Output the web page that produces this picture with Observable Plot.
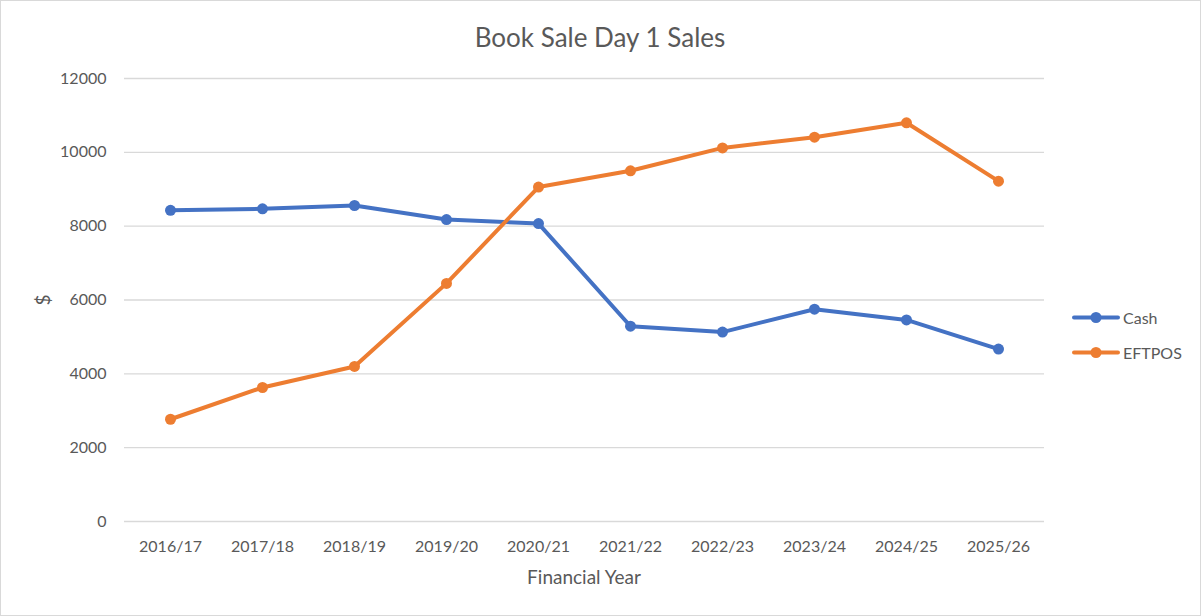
<!DOCTYPE html>
<html>
<head>
<meta charset="utf-8">
<script src="https://cdn.jsdelivr.net/npm/d3@7"></script>
<script src="https://cdn.jsdelivr.net/npm/@observablehq/plot@0.6"></script>
<style>
  html, body { margin: 0; padding: 0; background: #fff; }
  #wrap { position: relative; width: 1201px; height: 616px; overflow: hidden; font-family: Lato, "Open Sans", sans-serif; color: #595959; }
  #border { position: absolute; left: 0; top: 0; width: 1199px; height: 614px; border: 1px solid #d9d9d9; pointer-events: none; }
  #chart { position: absolute; left: 0; top: 0; }
  .lbl { position: absolute; white-space: nowrap; line-height: 1; }
  #title { font-size: 26px; left: 600px; top: 37px; transform: translate(-50%, -50%); }
  #xlabel { font-size: 19px; left: 584px; top: 576px; transform: translate(-50%, -50%); }
  #ylabel { font-size: 19px; left: 42px; top: 300px; transform: translate(-50%, -50%) rotate(-90deg); }
  .leg { position: absolute; left: 1072px; display: flex; align-items: center; font-size: 16px; transform: translateY(-50%); }
  .leg svg { margin-right: 3px; }
</style>
</head>
<body>
<div id="wrap">
  <div id="chart"></div>
  <div id="title" class="lbl">Book Sale Day 1 Sales</div>
  <div id="xlabel" class="lbl">Financial Year</div>
  <div id="ylabel" class="lbl">$</div>
  <div id="legend"></div>
  <div id="border"></div>
</div>
<script>
const categories = ["2016/17","2017/18","2018/19","2019/20","2020/21","2021/22","2022/23","2023/24","2024/25","2025/26"];
const cash   = [8430, 8470, 8560, 8180, 8070, 5290, 5130, 5750, 5460, 4670];
const eftpos = [2770, 3630, 4200, 6450, 9060, 9500, 10120, 10410, 10800, 9220];
const seriesNames = ["Cash", "EFTPOS"];
const seriesColors = ["#4472C4", "#ED7D31"];
const yTicks = [0, 2000, 4000, 6000, 8000, 10000, 12000];

const seriesValues = [cash, eftpos];
const data = [];
seriesNames.forEach((s, i) => {
  categories.forEach((c, j) => data.push({series: s, year: c, value: seriesValues[i][j]}));
});

const chart = Plot.plot({
  width: 1201,
  height: 616,
  marginLeft: 124,
  marginRight: 157,
  marginTop: 78,
  marginBottom: 95,
  style: {fontFamily: "Lato, 'Open Sans', sans-serif", fontSize: "16px", color: "#595959", background: "transparent", overflow: "visible"},
  x: {type: "point", domain: categories, padding: 0.5, label: null},
  y: {domain: [0, 12000], label: null},
  color: {domain: seriesNames, range: seriesColors},
  marks: [
    Plot.gridY(yTicks, {stroke: "#d9d9d9", strokeOpacity: 1, strokeWidth: 1.3}),
    Plot.axisY(yTicks, {tickSize: 0, tickPadding: 18, fontSize: 16, fill: "#595959", tickFormat: d => String(d), label: null}),
    Plot.axisX({tickSize: 0, tickPadding: 19, fontSize: 16, fill: "#595959", label: null}),
    Plot.line(data, {x: "year", y: "value", z: "series", stroke: "series", strokeWidth: 4, strokeLinejoin: "round", strokeLinecap: "round"}),
    Plot.dot(data, {x: "year", y: "value", fill: "series", r: 5.5, stroke: "none"})
  ]
});
document.getElementById("chart").appendChild(chart);

const legend = document.getElementById("legend");
const legendY = [317, 352];
seriesNames.forEach((s, i) => {
  const item = document.createElement("div");
  item.className = "leg";
  item.style.top = legendY[i] + "px";
  item.innerHTML = `<svg width="48" height="12"><line x1="2" x2="46" y1="6" y2="6" stroke="${seriesColors[i]}" stroke-width="4" stroke-linecap="round"/><circle cx="24" cy="6" r="5.5" fill="${seriesColors[i]}"/></svg><span>${s}</span>`;
  legend.appendChild(item);
});
</script>
</body>
</html>
